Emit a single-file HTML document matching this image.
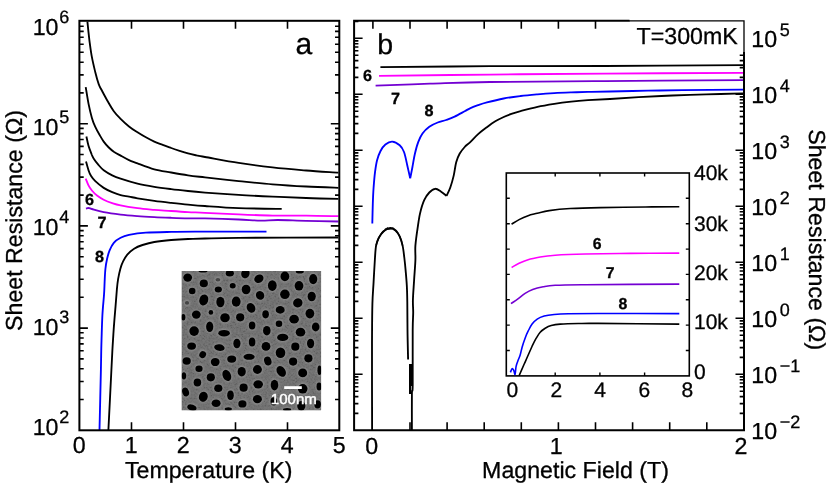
<!DOCTYPE html><html><head><meta charset="utf-8"><style>html,body{margin:0;padding:0;background:#fff}svg{display:block}text{font-family:"Liberation Sans",sans-serif}</style></head><body><svg width="830" height="498" viewBox="0 0 830 498">
<defs><filter id="bl" x="-5%" y="-5%" width="110%" height="110%"><feGaussianBlur stdDeviation="0.9"/></filter><filter id="bl2" x="-5%" y="-5%" width="110%" height="110%"><feGaussianBlur stdDeviation="0.5"/></filter>
<clipPath id="sem"><rect x="181.7" y="271.1" width="139.4" height="139.1"/></clipPath>
<clipPath id="ca"><rect x="79.4" y="20.8" width="259.9" height="409.5"/></clipPath>
<clipPath id="cb"><rect x="354.1" y="20.8" width="389.9" height="409.5"/></clipPath>
<filter id="gr" x="0" y="0" width="100%" height="100%"><feTurbulence type="fractalNoise" baseFrequency="0.55" numOctaves="2" seed="7"/><feColorMatrix type="matrix" values="1.6 0 0 0 -0.45  1.6 0 0 0 -0.45  1.6 0 0 0 -0.45  0 0 0 0 0.10"/></filter>
</defs>
<rect width="830" height="498" fill="#fff"/>
<path d="M87.4,21.7 C87.7,24.8 88.7,34.4 89.4,40.3 C90.2,46.2 90.9,51.9 91.9,57.2 C92.9,62.5 94.2,67.8 95.3,72.3 C96.4,76.8 97.7,81.3 98.7,84.1 C99.7,86.9 99.8,86.6 101.2,89.3 C102.6,92.0 105.0,96.5 107.1,100.2 C109.2,103.9 111.5,108.1 113.8,111.2 C116.0,114.3 118.1,116.3 120.6,118.8 C123.1,121.3 126.2,124.2 129.0,126.4 C131.8,128.7 134.7,130.5 137.5,132.3 C140.3,134.1 143.1,135.8 145.9,137.3 C148.7,138.9 151.5,140.3 154.3,141.6 C157.1,142.9 159.9,143.8 162.7,144.9 C165.5,146.0 168.4,147.0 171.2,148.0 C174.0,149.0 176.8,149.9 179.6,150.8 C182.4,151.7 185.2,152.6 188.0,153.4 C190.8,154.2 193.7,154.8 196.5,155.4 C199.3,156.0 198.0,155.8 205.0,157.0 C212.0,158.2 227.4,161.2 238.7,162.9 C249.9,164.6 261.2,166.1 272.5,167.4 C283.8,168.7 295.2,169.6 306.2,170.5 C317.2,171.4 333.0,172.3 338.4,172.7" fill="none" stroke="#000" stroke-width="1.85" stroke-linejoin="round" clip-path="url(#ca)"/>
<path d="M85.7,87.1 C86.2,89.8 87.5,98.5 88.5,103.6 C89.5,108.7 90.8,114.0 91.9,117.9 C93.0,121.8 94.0,124.1 95.3,126.9 C96.6,129.7 98.1,132.4 99.5,134.8 C100.9,137.2 102.2,139.5 103.7,141.6 C105.2,143.7 107.1,145.8 108.8,147.5 C110.5,149.2 111.8,150.3 113.8,151.7 C115.8,153.0 118.1,154.2 120.6,155.6 C123.1,157.0 126.2,158.8 129.0,160.1 C131.8,161.4 133.3,161.8 137.5,163.4 C141.7,165.0 148.7,167.9 154.3,169.4 C159.9,170.9 165.6,171.5 171.2,172.5 C176.8,173.5 182.4,174.5 188.0,175.3 C193.6,176.1 196.6,176.4 205.0,177.4 C213.4,178.4 227.4,179.9 238.7,181.1 C249.9,182.2 261.2,183.4 272.5,184.3 C283.8,185.2 295.2,185.9 306.2,186.5 C317.2,187.1 333.0,187.6 338.4,187.8" fill="none" stroke="#000" stroke-width="1.85" stroke-linejoin="round" clip-path="url(#ca)"/>
<path d="M86.4,136.5 C86.8,138.1 87.6,142.7 88.5,145.8 C89.4,148.9 91.1,152.9 91.9,155.0 C92.8,157.1 92.5,156.7 93.6,158.4 C94.7,160.1 97.0,163.2 98.7,165.2 C100.4,167.2 101.5,168.5 103.7,170.2 C106.0,171.9 109.4,173.9 112.2,175.3 C115.0,176.7 116.4,177.3 120.6,178.7 C124.8,180.1 131.9,182.3 137.5,183.7 C143.1,185.0 148.7,185.9 154.3,186.8 C159.9,187.7 165.6,188.4 171.2,189.1 C176.8,189.8 182.4,190.4 188.0,191.0 C193.6,191.6 196.6,191.9 205.0,192.6 C213.4,193.2 227.4,194.2 238.7,194.9 C249.9,195.6 261.2,196.1 272.5,196.6 C283.8,197.1 295.2,197.6 306.2,198.0 C317.2,198.4 333.0,198.7 338.4,198.8" fill="none" stroke="#000" stroke-width="1.85" stroke-linejoin="round" clip-path="url(#ca)"/>
<path d="M86.0,161.5 C86.4,162.9 87.7,167.8 88.5,170.2 C89.3,172.6 90.0,174.3 91.1,176.1 C92.2,177.9 93.2,179.2 95.3,181.2 C97.4,183.2 100.9,186.1 103.7,187.9 C106.5,189.7 109.4,191.0 112.2,192.2 C115.0,193.4 117.8,194.5 120.6,195.2 C123.4,195.9 126.2,196.1 129.0,196.6 C131.8,197.1 133.3,197.6 137.5,198.3 C141.7,199.0 148.7,200.1 154.3,200.9 C159.9,201.7 165.6,202.3 171.2,202.9 C176.8,203.5 182.4,204.1 188.0,204.6 C193.6,205.1 196.6,205.4 205.0,206.0 C213.4,206.6 225.9,207.6 238.7,208.1 C251.5,208.6 274.5,208.8 281.7,208.9" fill="none" stroke="#000" stroke-width="1.85" stroke-linejoin="round" clip-path="url(#ca)"/>
<path d="M338.4,237.5 C321.8,237.6 260.9,237.6 238.7,237.8 C216.5,238.0 213.4,238.3 205.0,238.5 C196.6,238.7 193.6,238.8 188.0,239.0 C182.4,239.2 176.8,239.5 171.2,240.0 C165.6,240.5 159.1,241.2 154.3,242.0 C149.5,242.8 145.9,243.9 142.5,245.0 C139.1,246.1 136.6,247.1 134.1,248.7 C131.6,250.3 129.1,252.5 127.3,254.6 C125.5,256.7 124.3,259.0 123.1,261.4 C121.9,263.8 121.1,266.1 120.3,269.0 C119.5,271.9 118.7,275.7 118.1,279.1 C117.5,282.5 117.3,284.6 116.9,289.2 C116.5,293.8 116.1,299.7 115.5,306.9 C114.9,314.1 114.0,324.3 113.5,332.2 C113.0,340.1 112.5,347.8 112.2,354.1 C111.9,360.4 112.0,357.4 111.4,370.0 C110.8,382.6 108.9,420.0 108.4,430.0" fill="none" stroke="#000" stroke-width="1.85" stroke-linejoin="round" clip-path="url(#ca)"/>
<path d="M85.7,178.7 C86.2,179.8 87.5,183.4 88.5,185.4 C89.5,187.4 90.5,188.8 91.9,190.5 C93.3,192.2 95.0,194.0 97.0,195.5 C99.0,197.0 101.2,198.4 103.7,199.7 C106.2,201.0 109.4,202.2 112.2,203.1 C115.0,204.0 116.4,204.5 120.6,205.3 C124.8,206.2 131.9,207.4 137.5,208.2 C143.1,209.0 148.7,209.4 154.3,209.9 C159.9,210.4 165.6,210.6 171.2,211.0 C176.8,211.4 182.4,211.8 188.0,212.1 C193.6,212.4 196.6,212.4 205.0,212.8 C213.4,213.2 227.4,213.9 238.7,214.4 C249.9,214.9 261.2,215.4 272.5,215.6 C283.8,215.8 295.2,215.5 306.2,215.6 C317.2,215.7 333.0,216.1 338.4,216.2" fill="none" stroke="#ff00ff" stroke-width="1.85" stroke-linejoin="round" clip-path="url(#ca)"/>
<path d="M86.0,208.7 C86.4,208.5 87.5,207.8 88.5,207.8 C89.5,207.9 89.4,208.3 91.9,209.0 C94.4,209.7 98.9,211.2 103.7,212.1 C108.5,213.0 115.0,213.9 120.6,214.6 C126.2,215.3 131.9,215.7 137.5,216.1 C143.1,216.5 148.7,216.8 154.3,217.1 C159.9,217.4 165.6,217.6 171.2,217.8 C176.8,218.0 182.4,218.2 188.0,218.3 C193.6,218.4 196.6,218.2 205.0,218.4 C213.4,218.6 229.4,219.1 238.7,219.5 C248.0,219.9 254.1,220.5 260.6,220.6 C267.1,220.7 269.9,220.0 277.5,220.0 C285.1,220.0 296.1,220.6 306.2,220.8 C316.3,221.1 333.0,221.4 338.4,221.5" fill="none" stroke="#7300d2" stroke-width="1.85" stroke-linejoin="round" clip-path="url(#ca)"/>
<path d="M266.5,231.6 C256.2,231.6 220.9,231.5 205.0,231.6 C189.1,231.7 181.0,231.7 171.2,231.9 C161.3,232.1 152.9,232.2 145.9,232.7 C138.9,233.2 133.2,234.1 129.0,234.9 C124.8,235.8 123.1,236.5 120.6,237.8 C118.1,239.1 115.6,240.7 113.8,242.8 C112.0,244.9 110.7,247.7 109.6,250.4 C108.5,253.1 107.8,255.7 107.1,258.8 C106.4,261.9 105.8,265.1 105.4,269.0 C105.0,272.9 104.8,278.2 104.6,282.5 C104.4,286.8 104.4,289.5 104.0,295.0 C103.6,300.5 102.8,307.7 102.4,315.3 C102.0,322.9 101.8,331.5 101.5,340.6 C101.2,349.7 101.2,355.1 100.9,370.0 C100.6,384.9 99.7,420.0 99.5,430.0" fill="none" stroke="#0000ff" stroke-width="1.85" stroke-linejoin="round" clip-path="url(#ca)"/>
<path d="M380.4,67.2 C398.7,67.0 452.6,66.4 490.0,66.2 C527.4,66.0 562.8,66.2 605.0,66.0 C647.2,65.8 720.0,65.3 743.0,65.2" fill="none" stroke="#000" stroke-width="1.85" stroke-linejoin="round" clip-path="url(#cb)"/>
<path d="M379.0,75.8 C397.5,75.6 452.3,75.0 490.0,74.6 C527.7,74.2 562.8,73.9 605.0,73.6 C647.2,73.3 720.0,72.9 743.0,72.8" fill="none" stroke="#ff00ff" stroke-width="1.85" stroke-linejoin="round" clip-path="url(#cb)"/>
<path d="M375.6,85.6 C384.7,85.3 410.9,84.3 430.0,83.7 C449.1,83.1 460.8,82.4 490.0,82.0 C519.2,81.6 562.8,81.4 605.0,81.1 C647.2,80.8 720.0,80.3 743.0,80.1" fill="none" stroke="#7300d2" stroke-width="1.85" stroke-linejoin="round" clip-path="url(#cb)"/>
<path d="M372.3,223.4 C372.4,220.2 372.6,210.0 372.8,204.0 C373.0,198.0 373.2,192.8 373.6,187.5 C374.0,182.2 374.4,176.8 375.0,172.3 C375.6,167.8 376.1,164.0 377.0,160.5 C377.9,157.0 379.0,153.9 380.4,151.2 C381.8,148.5 383.4,146.1 385.4,144.5 C387.4,142.9 389.8,141.5 392.2,141.6 C394.6,141.7 397.7,143.6 399.7,145.3 C401.7,147.0 402.7,148.6 404.0,152.0 C405.3,155.4 406.3,161.1 407.3,165.5 C408.3,169.9 409.7,176.1 410.2,178.2 " fill="none" stroke="#0000ff" stroke-width="1.85" stroke-linejoin="round" clip-path="url(#cb)"/>
<path d="M410.2,178.2 C410.6,176.4 411.6,171.3 412.4,167.2 C413.2,163.1 413.9,157.9 414.9,153.7 C415.9,149.5 417.0,145.3 418.3,141.9 C419.6,138.5 420.7,136.0 422.5,133.5 C424.3,131.0 426.8,128.5 429.3,126.7 C431.8,124.9 434.9,123.6 437.7,122.5 C440.5,121.4 443.3,121.0 446.1,120.0 C448.9,119.0 451.5,118.1 454.6,116.6 C457.7,115.1 462.1,112.6 464.7,111.2 C467.3,109.8 467.8,109.3 470.0,108.3 C472.2,107.3 475.2,106.2 478.0,105.2 C480.8,104.2 482.6,103.5 486.9,102.4 C491.2,101.3 498.1,99.6 503.7,98.5 C509.3,97.4 515.0,96.7 520.6,96.0 C526.2,95.3 531.9,94.8 537.5,94.3 C543.1,93.8 548.7,93.4 554.3,93.1 C559.9,92.8 565.6,92.6 571.2,92.4 C576.8,92.2 581.5,92.1 588.0,91.9 C594.5,91.8 600.0,91.7 610.0,91.5 C620.0,91.3 635.9,90.9 648.0,90.7 C660.1,90.5 666.6,90.3 682.4,90.1 C698.2,89.9 732.9,89.7 743.0,89.6" fill="none" stroke="#0000ff" stroke-width="1.85" stroke-linejoin="round" clip-path="url(#cb)"/>
<path d="M411.9,430.0 C411.9,424.0 411.8,401.5 411.9,394.0 C412.0,386.5 412.6,395.7 412.7,385.0 C412.8,374.3 412.6,342.1 412.7,330.0 C412.8,317.9 413.2,317.2 413.2,312.3 C413.2,307.4 412.8,305.9 412.9,300.5 C413.0,295.1 413.7,286.9 414.1,280.2 C414.5,273.4 415.2,265.8 415.4,260.0 C415.6,254.2 415.0,250.8 415.4,245.6 C415.8,240.4 416.7,234.1 417.5,228.8 C418.3,223.5 418.9,218.4 420.0,213.6 C421.1,208.8 422.6,203.6 424.2,200.1 C425.8,196.6 427.5,194.4 429.3,192.5 C431.1,190.6 433.2,188.9 435.2,188.8 C437.2,188.7 439.2,190.5 441.1,191.7 C443.0,192.9 445.6,195.2 446.5,195.9" fill="none" stroke="#000" stroke-width="1.85" stroke-linejoin="round" clip-path="url(#cb)"/>
<path d="M446.5,195.9 C447.1,194.5 449.1,190.9 450.3,187.5 C451.5,184.1 452.7,179.8 453.7,175.6 C454.7,171.4 455.2,165.8 456.2,162.2 C457.2,158.5 458.2,156.2 459.6,153.7 C461.0,151.2 463.0,148.9 464.7,147.0 C466.4,145.1 467.7,144.5 470.0,142.3 C472.3,140.1 475.6,136.4 478.4,133.9 C481.2,131.4 484.1,129.3 486.9,127.2 C489.7,125.1 492.5,123.0 495.3,121.3 C498.1,119.6 500.9,118.3 503.7,117.0 C506.5,115.7 509.4,114.7 512.2,113.7 C515.0,112.7 516.4,112.2 520.6,111.1 C524.8,110.0 531.9,108.1 537.5,106.9 C543.1,105.7 548.7,104.8 554.3,103.9 C559.9,103.0 565.6,102.3 571.2,101.7 C576.8,101.1 581.5,100.7 588.0,100.2 C594.5,99.8 601.5,99.5 610.0,99.0 C618.5,98.5 628.3,97.8 638.7,97.2 C649.1,96.6 661.2,96.0 672.5,95.5 C683.8,95.0 694.5,94.6 706.2,94.3 C718.0,94.0 736.9,93.6 743.0,93.4" fill="none" stroke="#000" stroke-width="1.85" stroke-linejoin="round" clip-path="url(#cb)"/>
<path d="M372.1,430.0 C372.1,415.7 371.9,365.0 372.0,344.0 C372.1,323.0 372.1,314.2 372.4,303.8 C372.7,293.4 373.2,289.6 373.6,281.9 C374.0,274.2 374.6,263.6 375.0,257.5 C375.4,251.4 375.5,248.8 376.1,245.6 C376.7,242.3 377.4,240.4 378.7,238.0 C380.0,235.6 381.8,233.0 383.7,231.3 C385.6,229.6 388.1,228.0 390.1,227.9 C392.1,227.8 393.9,229.1 395.5,230.5 C397.1,231.9 398.5,233.9 399.7,236.4 C400.9,238.9 401.8,242.1 402.6,245.6 C403.4,249.1 403.8,253.4 404.3,257.5 C404.8,261.6 405.2,265.5 405.6,270.1 C406.0,274.7 406.5,280.0 406.8,285.3 C407.1,290.6 407.2,294.8 407.3,302.2 C407.4,309.6 407.4,320.4 407.5,330.0 C407.6,339.6 408.0,354.6 408.1,359.5" fill="none" stroke="#000" stroke-width="1.85" stroke-linejoin="round" clip-path="url(#cb)"/>
<path d="M376.1,245.5 L376.5,244.0 L377.0,242.6 L377.4,241.4 L377.9,240.2 L378.3,239.0 L378.8,237.9 L379.2,237.2 L379.7,236.1 L380.1,235.3 L380.6,235.0 L381.0,234.0 L381.5,233.6 L381.9,232.8 L382.4,232.4 L382.8,231.5 L383.3,231.5 L383.7,231.4 L384.2,230.6 L384.6,230.5 L385.1,230.2 L385.5,229.0 L386.0,229.8 L386.4,229.3 L386.9,228.7 L387.3,228.0 L387.8,229.3 L388.2,228.5 L388.7,228.9 L389.1,229.1 L389.6,228.7 L390.0,229.0 L390.5,228.1 L390.9,228.8 L391.4,228.2 L391.8,229.0 L392.3,229.0 L392.7,228.0 L393.2,228.3 L393.6,228.6 L394.1,229.7 L394.5,229.4 L395.0,229.9 L395.4,229.9 L395.9,230.5 L396.3,230.9 L396.8,231.4 L397.2,232.1 L397.7,232.8 L398.1,233.6 L398.6,234.3 L399.0,235.2 L399.5,236.1 L399.9,237.2 L400.4,238.2 L400.8,239.4 L401.3,240.8 L401.7,242.3 L402.2,243.8 L402.6,245.6" fill="none" stroke="#000" stroke-width="1.5" stroke-linejoin="round" clip-path="url(#cb)"/>
<rect x="409" y="364" width="3.8" height="22" fill="#000"/><rect x="409" y="384" width="2.2" height="10" fill="#000"/>
<g clip-path="url(#sem)"><rect x="181" y="270" width="141" height="141" fill="#6c6c6c"/><rect x="181" y="270" width="141" height="141" filter="url(#gr)"/><g filter="url(#bl)">
<ellipse cx="187.7" cy="277.6" rx="5.5" ry="5.2" transform="rotate(0 187.7 277.6)" fill="#8e8e8e"/>
<ellipse cx="203.0" cy="271.1" rx="5.7" ry="2.7" transform="rotate(0 203.0 271.1)" fill="#8e8e8e"/>
<ellipse cx="229.8" cy="273.2" rx="5.2" ry="4.5" transform="rotate(0 229.8 273.2)" fill="#8e8e8e"/>
<ellipse cx="245.4" cy="273.5" rx="5.2" ry="6.0" transform="rotate(20 245.4 273.5)" fill="#8e8e8e"/>
<ellipse cx="203.8" cy="283.4" rx="5.2" ry="4.9" transform="rotate(0 203.8 283.4)" fill="#8e8e8e"/>
<ellipse cx="217.9" cy="279.7" rx="3.6" ry="3.0" transform="rotate(0 217.9 279.7)" fill="#8e8e8e"/>
<ellipse cx="192.2" cy="291.0" rx="4.5" ry="4.5" transform="rotate(0 192.2 291.0)" fill="#8e8e8e"/>
<ellipse cx="218.3" cy="289.5" rx="4.8" ry="4.0" transform="rotate(0 218.3 289.5)" fill="#8e8e8e"/>
<ellipse cx="232.7" cy="285.8" rx="4.2" ry="3.9" transform="rotate(0 232.7 285.8)" fill="#8e8e8e"/>
<ellipse cx="246.1" cy="289.5" rx="5.5" ry="6.0" transform="rotate(0 246.1 289.5)" fill="#8e8e8e"/>
<ellipse cx="203.8" cy="299.9" rx="5.5" ry="6.7" transform="rotate(20 203.8 299.9)" fill="#8e8e8e"/>
<ellipse cx="220.4" cy="302.0" rx="5.2" ry="6.4" transform="rotate(0 220.4 302.0)" fill="#8e8e8e"/>
<ellipse cx="236.2" cy="301.7" rx="5.5" ry="6.3" transform="rotate(0 236.2 301.7)" fill="#8e8e8e"/>
<ellipse cx="187.0" cy="302.9" rx="3.3" ry="3.0" transform="rotate(0 187.0 302.9)" fill="#8e8e8e"/>
<ellipse cx="251.0" cy="307.9" rx="5.2" ry="6.3" transform="rotate(-30 251.0 307.9)" fill="#8e8e8e"/>
<ellipse cx="196.3" cy="314.6" rx="5.5" ry="5.2" transform="rotate(0 196.3 314.6)" fill="#8e8e8e"/>
<ellipse cx="210.9" cy="312.4" rx="3.4" ry="3.4" transform="rotate(0 210.9 312.4)" fill="#8e8e8e"/>
<ellipse cx="183.3" cy="317.3" rx="3.3" ry="4.5" transform="rotate(0 183.3 317.3)" fill="#8e8e8e"/>
<ellipse cx="225.0" cy="317.7" rx="6.0" ry="5.7" transform="rotate(0 225.0 317.7)" fill="#8e8e8e"/>
<ellipse cx="240.2" cy="317.3" rx="5.2" ry="5.2" transform="rotate(0 240.2 317.3)" fill="#8e8e8e"/>
<ellipse cx="209.7" cy="326.7" rx="4.8" ry="6.4" transform="rotate(0 209.7 326.7)" fill="#8e8e8e"/>
<ellipse cx="194.1" cy="331.1" rx="6.0" ry="6.0" transform="rotate(0 194.1 331.1)" fill="#8e8e8e"/>
<ellipse cx="224.1" cy="333.2" rx="7.0" ry="4.5" transform="rotate(0 224.1 333.2)" fill="#8e8e8e"/>
<ellipse cx="252.1" cy="325.5" rx="4.5" ry="5.2" transform="rotate(0 252.1 325.5)" fill="#8e8e8e"/>
<ellipse cx="258.9" cy="278.7" rx="6.0" ry="5.2" transform="rotate(-30 258.9 278.7)" fill="#8e8e8e"/>
<ellipse cx="284.9" cy="276.4" rx="5.5" ry="6.0" transform="rotate(0 284.9 276.4)" fill="#8e8e8e"/>
<ellipse cx="299.8" cy="271.7" rx="5.2" ry="3.0" transform="rotate(0 299.8 271.7)" fill="#8e8e8e"/>
<ellipse cx="313.2" cy="279.1" rx="5.2" ry="6.3" transform="rotate(0 313.2 279.1)" fill="#8e8e8e"/>
<ellipse cx="272.3" cy="285.6" rx="5.5" ry="6.4" transform="rotate(0 272.3 285.6)" fill="#8e8e8e"/>
<ellipse cx="299.0" cy="285.8" rx="5.5" ry="6.0" transform="rotate(0 299.0 285.8)" fill="#8e8e8e"/>
<ellipse cx="260.1" cy="295.4" rx="5.2" ry="5.7" transform="rotate(-30 260.1 295.4)" fill="#8e8e8e"/>
<ellipse cx="284.9" cy="294.3" rx="6.0" ry="6.0" transform="rotate(0 284.9 294.3)" fill="#8e8e8e"/>
<ellipse cx="311.7" cy="296.5" rx="5.2" ry="6.0" transform="rotate(0 311.7 296.5)" fill="#8e8e8e"/>
<ellipse cx="297.8" cy="302.9" rx="6.0" ry="5.7" transform="rotate(-30 297.8 302.9)" fill="#8e8e8e"/>
<ellipse cx="280.2" cy="309.9" rx="5.7" ry="4.9" transform="rotate(0 280.2 309.9)" fill="#8e8e8e"/>
<ellipse cx="265.6" cy="314.3" rx="4.5" ry="5.2" transform="rotate(0 265.6 314.3)" fill="#8e8e8e"/>
<ellipse cx="309.9" cy="313.6" rx="5.5" ry="6.0" transform="rotate(0 309.9 313.6)" fill="#8e8e8e"/>
<ellipse cx="294.1" cy="319.2" rx="6.0" ry="5.5" transform="rotate(0 294.1 319.2)" fill="#8e8e8e"/>
<ellipse cx="279.0" cy="323.7" rx="4.5" ry="4.5" transform="rotate(0 279.0 323.7)" fill="#8e8e8e"/>
<ellipse cx="315.7" cy="326.9" rx="4.9" ry="5.7" transform="rotate(0 315.7 326.9)" fill="#8e8e8e"/>
<ellipse cx="266.8" cy="330.7" rx="4.9" ry="6.0" transform="rotate(0 266.8 330.7)" fill="#8e8e8e"/>
<ellipse cx="300.5" cy="332.2" rx="6.0" ry="5.5" transform="rotate(0 300.5 332.2)" fill="#8e8e8e"/>
<ellipse cx="282.7" cy="337.4" rx="6.7" ry="4.8" transform="rotate(0 282.7 337.4)" fill="#8e8e8e"/>
<ellipse cx="191.6" cy="346.1" rx="5.5" ry="4.8" transform="rotate(0 191.6 346.1)" fill="#8e8e8e"/>
<ellipse cx="219.4" cy="347.6" rx="6.4" ry="4.5" transform="rotate(10 219.4 347.6)" fill="#8e8e8e"/>
<ellipse cx="236.9" cy="343.5" rx="4.8" ry="6.0" transform="rotate(0 236.9 343.5)" fill="#8e8e8e"/>
<ellipse cx="252.1" cy="342.0" rx="4.5" ry="5.7" transform="rotate(0 252.1 342.0)" fill="#8e8e8e"/>
<ellipse cx="202.7" cy="354.6" rx="4.5" ry="4.8" transform="rotate(30 202.7 354.6)" fill="#8e8e8e"/>
<ellipse cx="186.7" cy="361.0" rx="5.2" ry="4.9" transform="rotate(0 186.7 361.0)" fill="#8e8e8e"/>
<ellipse cx="231.7" cy="359.1" rx="5.7" ry="4.8" transform="rotate(0 231.7 359.1)" fill="#8e8e8e"/>
<ellipse cx="249.1" cy="356.8" rx="6.7" ry="4.2" transform="rotate(0 249.1 356.8)" fill="#8e8e8e"/>
<ellipse cx="215.2" cy="362.0" rx="5.5" ry="5.2" transform="rotate(0 215.2 362.0)" fill="#8e8e8e"/>
<ellipse cx="199.0" cy="368.7" rx="4.8" ry="4.5" transform="rotate(0 199.0 368.7)" fill="#8e8e8e"/>
<ellipse cx="241.7" cy="371.7" rx="5.2" ry="6.0" transform="rotate(0 241.7 371.7)" fill="#8e8e8e"/>
<ellipse cx="183.9" cy="375.8" rx="3.4" ry="4.8" transform="rotate(0 183.9 375.8)" fill="#8e8e8e"/>
<ellipse cx="210.8" cy="377.3" rx="5.2" ry="5.2" transform="rotate(0 210.8 377.3)" fill="#8e8e8e"/>
<ellipse cx="226.8" cy="375.4" rx="5.2" ry="7.0" transform="rotate(-25 226.8 375.4)" fill="#8e8e8e"/>
<ellipse cx="197.4" cy="382.5" rx="4.9" ry="5.2" transform="rotate(0 197.4 382.5)" fill="#8e8e8e"/>
<ellipse cx="243.6" cy="387.7" rx="5.2" ry="5.2" transform="rotate(0 243.6 387.7)" fill="#8e8e8e"/>
<ellipse cx="218.3" cy="388.3" rx="5.2" ry="4.9" transform="rotate(0 218.3 388.3)" fill="#8e8e8e"/>
<ellipse cx="185.6" cy="392.0" rx="4.5" ry="5.5" transform="rotate(-20 185.6 392.0)" fill="#8e8e8e"/>
<ellipse cx="230.5" cy="395.2" rx="4.5" ry="6.0" transform="rotate(0 230.5 395.2)" fill="#8e8e8e"/>
<ellipse cx="203.3" cy="396.7" rx="5.5" ry="6.3" transform="rotate(20 203.3 396.7)" fill="#8e8e8e"/>
<ellipse cx="216.1" cy="403.2" rx="5.7" ry="4.9" transform="rotate(0 216.1 403.2)" fill="#8e8e8e"/>
<ellipse cx="242.4" cy="403.9" rx="5.2" ry="4.8" transform="rotate(0 242.4 403.9)" fill="#8e8e8e"/>
<ellipse cx="191.9" cy="407.6" rx="6.0" ry="4.2" transform="rotate(20 191.9 407.6)" fill="#8e8e8e"/>
<ellipse cx="228.3" cy="409.1" rx="4.8" ry="3.0" transform="rotate(0 228.3 409.1)" fill="#8e8e8e"/>
<ellipse cx="266.0" cy="346.4" rx="5.5" ry="5.5" transform="rotate(0 266.0 346.4)" fill="#8e8e8e"/>
<ellipse cx="295.3" cy="346.7" rx="5.2" ry="5.2" transform="rotate(0 295.3 346.7)" fill="#8e8e8e"/>
<ellipse cx="310.6" cy="343.5" rx="4.8" ry="6.0" transform="rotate(0 310.6 343.5)" fill="#8e8e8e"/>
<ellipse cx="280.5" cy="352.7" rx="6.0" ry="6.4" transform="rotate(0 280.5 352.7)" fill="#8e8e8e"/>
<ellipse cx="267.8" cy="361.0" rx="4.8" ry="5.7" transform="rotate(-20 267.8 361.0)" fill="#8e8e8e"/>
<ellipse cx="293.1" cy="361.6" rx="5.2" ry="5.2" transform="rotate(0 293.1 361.6)" fill="#8e8e8e"/>
<ellipse cx="308.4" cy="358.3" rx="5.2" ry="5.2" transform="rotate(0 308.4 358.3)" fill="#8e8e8e"/>
<ellipse cx="257.4" cy="369.5" rx="5.7" ry="5.5" transform="rotate(0 257.4 369.5)" fill="#8e8e8e"/>
<ellipse cx="281.2" cy="371.4" rx="5.4" ry="7.0" transform="rotate(-35 281.2 371.4)" fill="#8e8e8e"/>
<ellipse cx="302.7" cy="372.9" rx="5.7" ry="5.5" transform="rotate(0 302.7 372.9)" fill="#8e8e8e"/>
<ellipse cx="319.5" cy="370.2" rx="3.3" ry="6.0" transform="rotate(0 319.5 370.2)" fill="#8e8e8e"/>
<ellipse cx="258.2" cy="384.3" rx="6.0" ry="5.2" transform="rotate(0 258.2 384.3)" fill="#8e8e8e"/>
<ellipse cx="274.5" cy="385.1" rx="4.9" ry="6.4" transform="rotate(0 274.5 385.1)" fill="#8e8e8e"/>
<ellipse cx="319.1" cy="386.5" rx="3.7" ry="5.2" transform="rotate(0 319.1 386.5)" fill="#8e8e8e"/>
<ellipse cx="302.7" cy="388.8" rx="6.0" ry="6.0" transform="rotate(0 302.7 388.8)" fill="#8e8e8e"/>
<ellipse cx="257.4" cy="399.2" rx="5.7" ry="5.2" transform="rotate(0 257.4 399.2)" fill="#8e8e8e"/>
<ellipse cx="273.8" cy="401.4" rx="4.5" ry="5.2" transform="rotate(0 273.8 401.4)" fill="#8e8e8e"/>
<ellipse cx="301.3" cy="405.9" rx="5.2" ry="6.0" transform="rotate(0 301.3 405.9)" fill="#8e8e8e"/>
<ellipse cx="317.6" cy="404.4" rx="4.5" ry="5.2" transform="rotate(0 317.6 404.4)" fill="#8e8e8e"/>
<ellipse cx="287.1" cy="409.6" rx="5.2" ry="2.7" transform="rotate(0 287.1 409.6)" fill="#8e8e8e"/>
</g><g filter="url(#bl2)">
<ellipse cx="187.7" cy="277.6" rx="4.4" ry="4.1" transform="rotate(0 187.7 277.6)" fill="#000"/>
<ellipse cx="203.0" cy="271.1" rx="4.5" ry="1.5" transform="rotate(0 203.0 271.1)" fill="#000"/>
<ellipse cx="229.8" cy="273.2" rx="4.1" ry="3.3" transform="rotate(0 229.8 273.2)" fill="#000"/>
<ellipse cx="245.4" cy="273.5" rx="4.1" ry="4.8" transform="rotate(20 245.4 273.5)" fill="#000"/>
<ellipse cx="203.8" cy="283.4" rx="4.1" ry="3.8" transform="rotate(0 203.8 283.4)" fill="#000"/>
<ellipse cx="217.9" cy="279.7" rx="2.4" ry="1.8" transform="rotate(0 217.9 279.7)" fill="#444"/>
<ellipse cx="192.2" cy="291.0" rx="3.3" ry="3.3" transform="rotate(0 192.2 291.0)" fill="#000"/>
<ellipse cx="218.3" cy="289.5" rx="3.6" ry="2.9" transform="rotate(0 218.3 289.5)" fill="#000"/>
<ellipse cx="232.7" cy="285.8" rx="3.0" ry="2.7" transform="rotate(0 232.7 285.8)" fill="#000"/>
<ellipse cx="246.1" cy="289.5" rx="4.4" ry="4.8" transform="rotate(0 246.1 289.5)" fill="#000"/>
<ellipse cx="203.8" cy="299.9" rx="4.4" ry="5.6" transform="rotate(20 203.8 299.9)" fill="#000"/>
<ellipse cx="220.4" cy="302.0" rx="4.1" ry="5.3" transform="rotate(0 220.4 302.0)" fill="#000"/>
<ellipse cx="236.2" cy="301.7" rx="4.4" ry="5.1" transform="rotate(0 236.2 301.7)" fill="#000"/>
<ellipse cx="187.0" cy="302.9" rx="2.1" ry="1.8" transform="rotate(0 187.0 302.9)" fill="#444"/>
<ellipse cx="251.0" cy="307.9" rx="4.1" ry="5.1" transform="rotate(-30 251.0 307.9)" fill="#000"/>
<ellipse cx="196.3" cy="314.6" rx="4.4" ry="4.1" transform="rotate(0 196.3 314.6)" fill="#000"/>
<ellipse cx="210.9" cy="312.4" rx="2.3" ry="2.3" transform="rotate(0 210.9 312.4)" fill="#000"/>
<ellipse cx="183.3" cy="317.3" rx="2.1" ry="3.3" transform="rotate(0 183.3 317.3)" fill="#000"/>
<ellipse cx="225.0" cy="317.7" rx="4.8" ry="4.5" transform="rotate(0 225.0 317.7)" fill="#000"/>
<ellipse cx="240.2" cy="317.3" rx="4.1" ry="4.1" transform="rotate(0 240.2 317.3)" fill="#000"/>
<ellipse cx="209.7" cy="326.7" rx="3.6" ry="5.3" transform="rotate(0 209.7 326.7)" fill="#000"/>
<ellipse cx="194.1" cy="331.1" rx="4.8" ry="4.8" transform="rotate(0 194.1 331.1)" fill="#000"/>
<ellipse cx="224.1" cy="333.2" rx="5.8" ry="3.3" transform="rotate(0 224.1 333.2)" fill="#000"/>
<ellipse cx="252.1" cy="325.5" rx="3.3" ry="4.1" transform="rotate(0 252.1 325.5)" fill="#000"/>
<ellipse cx="258.9" cy="278.7" rx="4.8" ry="4.1" transform="rotate(-30 258.9 278.7)" fill="#000"/>
<ellipse cx="284.9" cy="276.4" rx="4.4" ry="4.8" transform="rotate(0 284.9 276.4)" fill="#000"/>
<ellipse cx="299.8" cy="271.7" rx="4.1" ry="1.8" transform="rotate(0 299.8 271.7)" fill="#000"/>
<ellipse cx="313.2" cy="279.1" rx="4.1" ry="5.1" transform="rotate(0 313.2 279.1)" fill="#000"/>
<ellipse cx="272.3" cy="285.6" rx="4.4" ry="5.3" transform="rotate(0 272.3 285.6)" fill="#000"/>
<ellipse cx="299.0" cy="285.8" rx="4.4" ry="4.8" transform="rotate(0 299.0 285.8)" fill="#000"/>
<ellipse cx="260.1" cy="295.4" rx="4.1" ry="4.5" transform="rotate(-30 260.1 295.4)" fill="#000"/>
<ellipse cx="284.9" cy="294.3" rx="4.8" ry="4.8" transform="rotate(0 284.9 294.3)" fill="#000"/>
<ellipse cx="311.7" cy="296.5" rx="4.1" ry="4.8" transform="rotate(0 311.7 296.5)" fill="#000"/>
<ellipse cx="297.8" cy="302.9" rx="4.8" ry="4.5" transform="rotate(-30 297.8 302.9)" fill="#000"/>
<ellipse cx="280.2" cy="309.9" rx="4.5" ry="3.8" transform="rotate(0 280.2 309.9)" fill="#000"/>
<ellipse cx="265.6" cy="314.3" rx="3.3" ry="4.1" transform="rotate(0 265.6 314.3)" fill="#000"/>
<ellipse cx="309.9" cy="313.6" rx="4.4" ry="4.8" transform="rotate(0 309.9 313.6)" fill="#000"/>
<ellipse cx="294.1" cy="319.2" rx="4.8" ry="4.4" transform="rotate(0 294.1 319.2)" fill="#000"/>
<ellipse cx="279.0" cy="323.7" rx="3.3" ry="3.3" transform="rotate(0 279.0 323.7)" fill="#000"/>
<ellipse cx="315.7" cy="326.9" rx="3.8" ry="4.5" transform="rotate(0 315.7 326.9)" fill="#000"/>
<ellipse cx="266.8" cy="330.7" rx="3.8" ry="4.8" transform="rotate(0 266.8 330.7)" fill="#000"/>
<ellipse cx="300.5" cy="332.2" rx="4.8" ry="4.4" transform="rotate(0 300.5 332.2)" fill="#000"/>
<ellipse cx="282.7" cy="337.4" rx="5.6" ry="3.6" transform="rotate(0 282.7 337.4)" fill="#000"/>
<ellipse cx="191.6" cy="346.1" rx="4.4" ry="3.6" transform="rotate(0 191.6 346.1)" fill="#000"/>
<ellipse cx="219.4" cy="347.6" rx="5.3" ry="3.3" transform="rotate(10 219.4 347.6)" fill="#000"/>
<ellipse cx="236.9" cy="343.5" rx="3.6" ry="4.8" transform="rotate(0 236.9 343.5)" fill="#000"/>
<ellipse cx="252.1" cy="342.0" rx="3.3" ry="4.5" transform="rotate(0 252.1 342.0)" fill="#000"/>
<ellipse cx="202.7" cy="354.6" rx="3.3" ry="3.6" transform="rotate(30 202.7 354.6)" fill="#000"/>
<ellipse cx="186.7" cy="361.0" rx="4.1" ry="3.8" transform="rotate(0 186.7 361.0)" fill="#000"/>
<ellipse cx="231.7" cy="359.1" rx="4.5" ry="3.6" transform="rotate(0 231.7 359.1)" fill="#000"/>
<ellipse cx="249.1" cy="356.8" rx="5.6" ry="3.0" transform="rotate(0 249.1 356.8)" fill="#000"/>
<ellipse cx="215.2" cy="362.0" rx="4.4" ry="4.1" transform="rotate(0 215.2 362.0)" fill="#000"/>
<ellipse cx="199.0" cy="368.7" rx="3.6" ry="3.3" transform="rotate(0 199.0 368.7)" fill="#000"/>
<ellipse cx="241.7" cy="371.7" rx="4.1" ry="4.8" transform="rotate(0 241.7 371.7)" fill="#000"/>
<ellipse cx="183.9" cy="375.8" rx="2.3" ry="3.6" transform="rotate(0 183.9 375.8)" fill="#000"/>
<ellipse cx="210.8" cy="377.3" rx="4.1" ry="4.1" transform="rotate(0 210.8 377.3)" fill="#000"/>
<ellipse cx="226.8" cy="375.4" rx="4.1" ry="5.8" transform="rotate(-25 226.8 375.4)" fill="#000"/>
<ellipse cx="197.4" cy="382.5" rx="3.8" ry="4.1" transform="rotate(0 197.4 382.5)" fill="#000"/>
<ellipse cx="243.6" cy="387.7" rx="4.1" ry="4.1" transform="rotate(0 243.6 387.7)" fill="#000"/>
<ellipse cx="218.3" cy="388.3" rx="4.1" ry="3.8" transform="rotate(0 218.3 388.3)" fill="#000"/>
<ellipse cx="185.6" cy="392.0" rx="3.3" ry="4.4" transform="rotate(-20 185.6 392.0)" fill="#000"/>
<ellipse cx="230.5" cy="395.2" rx="3.3" ry="4.8" transform="rotate(0 230.5 395.2)" fill="#000"/>
<ellipse cx="203.3" cy="396.7" rx="4.4" ry="5.1" transform="rotate(20 203.3 396.7)" fill="#000"/>
<ellipse cx="216.1" cy="403.2" rx="4.5" ry="3.8" transform="rotate(0 216.1 403.2)" fill="#000"/>
<ellipse cx="242.4" cy="403.9" rx="4.1" ry="3.6" transform="rotate(0 242.4 403.9)" fill="#000"/>
<ellipse cx="191.9" cy="407.6" rx="4.8" ry="3.0" transform="rotate(20 191.9 407.6)" fill="#000"/>
<ellipse cx="228.3" cy="409.1" rx="3.6" ry="1.8" transform="rotate(0 228.3 409.1)" fill="#000"/>
<ellipse cx="266.0" cy="346.4" rx="4.4" ry="4.4" transform="rotate(0 266.0 346.4)" fill="#000"/>
<ellipse cx="295.3" cy="346.7" rx="4.1" ry="4.1" transform="rotate(0 295.3 346.7)" fill="#000"/>
<ellipse cx="310.6" cy="343.5" rx="3.6" ry="4.8" transform="rotate(0 310.6 343.5)" fill="#000"/>
<ellipse cx="280.5" cy="352.7" rx="4.8" ry="5.3" transform="rotate(0 280.5 352.7)" fill="#000"/>
<ellipse cx="267.8" cy="361.0" rx="3.6" ry="4.5" transform="rotate(-20 267.8 361.0)" fill="#000"/>
<ellipse cx="293.1" cy="361.6" rx="4.1" ry="4.1" transform="rotate(0 293.1 361.6)" fill="#000"/>
<ellipse cx="308.4" cy="358.3" rx="4.1" ry="4.1" transform="rotate(0 308.4 358.3)" fill="#000"/>
<ellipse cx="257.4" cy="369.5" rx="4.5" ry="4.4" transform="rotate(0 257.4 369.5)" fill="#000"/>
<ellipse cx="281.2" cy="371.4" rx="4.2" ry="5.8" transform="rotate(-35 281.2 371.4)" fill="#000"/>
<ellipse cx="302.7" cy="372.9" rx="4.5" ry="4.4" transform="rotate(0 302.7 372.9)" fill="#000"/>
<ellipse cx="319.5" cy="370.2" rx="2.1" ry="4.8" transform="rotate(0 319.5 370.2)" fill="#000"/>
<ellipse cx="258.2" cy="384.3" rx="4.8" ry="4.1" transform="rotate(0 258.2 384.3)" fill="#000"/>
<ellipse cx="274.5" cy="385.1" rx="3.8" ry="5.3" transform="rotate(0 274.5 385.1)" fill="#000"/>
<ellipse cx="319.1" cy="386.5" rx="2.6" ry="4.1" transform="rotate(0 319.1 386.5)" fill="#000"/>
<ellipse cx="302.7" cy="388.8" rx="4.8" ry="4.8" transform="rotate(0 302.7 388.8)" fill="#000"/>
<ellipse cx="257.4" cy="399.2" rx="4.5" ry="4.1" transform="rotate(0 257.4 399.2)" fill="#000"/>
<ellipse cx="273.8" cy="401.4" rx="3.3" ry="4.1" transform="rotate(0 273.8 401.4)" fill="#000"/>
<ellipse cx="301.3" cy="405.9" rx="4.1" ry="4.8" transform="rotate(0 301.3 405.9)" fill="#000"/>
<ellipse cx="317.6" cy="404.4" rx="3.3" ry="4.1" transform="rotate(0 317.6 404.4)" fill="#000"/>
<ellipse cx="287.1" cy="409.6" rx="4.1" ry="1.5" transform="rotate(0 287.1 409.6)" fill="#000"/>
</g>
<rect x="284.2" y="386.2" width="17.6" height="2.8" fill="#fff"/>
<text x="293.8" y="404.4" font-size="14.5" fill="#fff" stroke="#fff" stroke-width="0.4" text-rendering="geometricPrecision" style="opacity:0.999" text-anchor="middle" textLength="46" lengthAdjust="spacingAndGlyphs">100nm</text>
</g>
<rect x="629.5" y="21.0" width="114.3" height="31.2" fill="#fff"/>
<path d="M131.5,20.8 v8 M131.5,430.3 v-8 M183.5,20.8 v8 M183.5,430.3 v-8 M235.5,20.8 v8 M235.5,430.3 v-8 M287.5,20.8 v8 M287.5,430.3 v-8 M79.4,399.5 h4.3 M339.3,399.5 h-4.3 M79.4,381.5 h4.3 M339.3,381.5 h-4.3 M79.4,368.8 h4.3 M339.3,368.8 h-4.3 M79.4,358.9 h4.3 M339.3,358.9 h-4.3 M79.4,350.8 h4.3 M339.3,350.8 h-4.3 M79.4,343.9 h4.3 M339.3,343.9 h-4.3 M79.4,338.0 h4.3 M339.3,338.0 h-4.3 M79.4,332.8 h4.3 M339.3,332.8 h-4.3 M79.4,328.1 h8.5 M339.3,328.1 h-8.5 M79.4,297.3 h4.3 M339.3,297.3 h-4.3 M79.4,279.3 h4.3 M339.3,279.3 h-4.3 M79.4,266.6 h4.3 M339.3,266.6 h-4.3 M79.4,256.7 h4.3 M339.3,256.7 h-4.3 M79.4,248.6 h4.3 M339.3,248.6 h-4.3 M79.4,241.7 h4.3 M339.3,241.7 h-4.3 M79.4,235.8 h4.3 M339.3,235.8 h-4.3 M79.4,230.6 h4.3 M339.3,230.6 h-4.3 M79.4,225.9 h8.5 M339.3,225.9 h-8.5 M79.4,195.1 h4.3 M339.3,195.1 h-4.3 M79.4,177.1 h4.3 M339.3,177.1 h-4.3 M79.4,164.4 h4.3 M339.3,164.4 h-4.3 M79.4,154.5 h4.3 M339.3,154.5 h-4.3 M79.4,146.4 h4.3 M339.3,146.4 h-4.3 M79.4,139.5 h4.3 M339.3,139.5 h-4.3 M79.4,133.6 h4.3 M339.3,133.6 h-4.3 M79.4,128.4 h4.3 M339.3,128.4 h-4.3 M79.4,123.7 h8.5 M339.3,123.7 h-8.5 M79.4,92.9 h4.3 M339.3,92.9 h-4.3 M79.4,74.9 h4.3 M339.3,74.9 h-4.3 M79.4,62.2 h4.3 M339.3,62.2 h-4.3 M79.4,52.3 h4.3 M339.3,52.3 h-4.3 M79.4,44.2 h4.3 M339.3,44.2 h-4.3 M79.4,37.3 h4.3 M339.3,37.3 h-4.3 M79.4,31.4 h4.3 M339.3,31.4 h-4.3 M79.4,26.2 h4.3 M339.3,26.2 h-4.3 M410.0,20.8 v8 M410.0,430.3 v-8 M447.1,20.8 v8 M447.1,430.3 v-8 M484.2,20.8 v8 M484.2,430.3 v-8 M521.3,20.8 v8 M521.3,430.3 v-8 M558.4,20.8 v8 M558.4,430.3 v-8 M595.5,20.8 v8 M595.5,430.3 v-8 M632.6,430.3 v-8 M669.7,430.3 v-8 M706.8,430.3 v-8 M372.9,20.8 v8 M354.1,413.4 h4.3 M744.0,413.4 h-4.3 M354.1,403.6 h4.3 M744.0,403.6 h-4.3 M354.1,396.6 h4.3 M744.0,396.6 h-4.3 M354.1,391.2 h4.3 M744.0,391.2 h-4.3 M354.1,386.7 h4.3 M744.0,386.7 h-4.3 M354.1,383.0 h4.3 M744.0,383.0 h-4.3 M354.1,379.7 h4.3 M744.0,379.7 h-4.3 M354.1,376.9 h4.3 M744.0,376.9 h-4.3 M354.1,374.3 h8.5 M744.0,374.3 h-8.5 M354.1,357.4 h4.3 M744.0,357.4 h-4.3 M354.1,347.6 h4.3 M744.0,347.6 h-4.3 M354.1,340.6 h4.3 M744.0,340.6 h-4.3 M354.1,335.2 h4.3 M744.0,335.2 h-4.3 M354.1,330.7 h4.3 M744.0,330.7 h-4.3 M354.1,327.0 h4.3 M744.0,327.0 h-4.3 M354.1,323.7 h4.3 M744.0,323.7 h-4.3 M354.1,320.9 h4.3 M744.0,320.9 h-4.3 M354.1,318.3 h8.5 M744.0,318.3 h-8.5 M354.1,301.4 h4.3 M744.0,301.4 h-4.3 M354.1,291.6 h4.3 M744.0,291.6 h-4.3 M354.1,284.6 h4.3 M744.0,284.6 h-4.3 M354.1,279.2 h4.3 M744.0,279.2 h-4.3 M354.1,274.7 h4.3 M744.0,274.7 h-4.3 M354.1,271.0 h4.3 M744.0,271.0 h-4.3 M354.1,267.7 h4.3 M744.0,267.7 h-4.3 M354.1,264.9 h4.3 M744.0,264.9 h-4.3 M354.1,262.3 h8.5 M744.0,262.3 h-8.5 M354.1,245.4 h4.3 M744.0,245.4 h-4.3 M354.1,235.6 h4.3 M744.0,235.6 h-4.3 M354.1,228.6 h4.3 M744.0,228.6 h-4.3 M354.1,223.2 h4.3 M744.0,223.2 h-4.3 M354.1,218.7 h4.3 M744.0,218.7 h-4.3 M354.1,215.0 h4.3 M744.0,215.0 h-4.3 M354.1,211.7 h4.3 M744.0,211.7 h-4.3 M354.1,208.9 h4.3 M744.0,208.9 h-4.3 M354.1,206.3 h8.5 M744.0,206.3 h-8.5 M354.1,189.4 h4.3 M744.0,189.4 h-4.3 M354.1,179.6 h4.3 M744.0,179.6 h-4.3 M354.1,172.6 h4.3 M744.0,172.6 h-4.3 M354.1,167.2 h4.3 M744.0,167.2 h-4.3 M354.1,162.7 h4.3 M744.0,162.7 h-4.3 M354.1,159.0 h4.3 M744.0,159.0 h-4.3 M354.1,155.7 h4.3 M744.0,155.7 h-4.3 M354.1,152.9 h4.3 M744.0,152.9 h-4.3 M354.1,150.3 h8.5 M744.0,150.3 h-8.5 M354.1,133.4 h4.3 M744.0,133.4 h-4.3 M354.1,123.6 h4.3 M744.0,123.6 h-4.3 M354.1,116.6 h4.3 M744.0,116.6 h-4.3 M354.1,111.2 h4.3 M744.0,111.2 h-4.3 M354.1,106.7 h4.3 M744.0,106.7 h-4.3 M354.1,103.0 h4.3 M744.0,103.0 h-4.3 M354.1,99.7 h4.3 M744.0,99.7 h-4.3 M354.1,96.9 h4.3 M744.0,96.9 h-4.3 M354.1,94.3 h8.5 M744.0,94.3 h-8.5 M354.1,77.4 h4.3 M744.0,77.4 h-4.3 M354.1,67.6 h4.3 M744.0,67.6 h-4.3 M354.1,60.6 h4.3 M744.0,60.6 h-4.3 M354.1,55.2 h4.3 M744.0,55.2 h-4.3 M354.1,50.7 h4.3 M354.1,47.0 h4.3 M354.1,43.7 h4.3 M354.1,40.9 h4.3 M354.1,38.3 h8.5 M354.1,21.4 h4.3" stroke="#000" stroke-width="1.6" fill="none"/>
<rect x="79.4" y="20.8" width="259.9" height="409.5" fill="none" stroke="#000" stroke-width="2.0"/>
<path d="M744.0,52 V430.3 H354.1 V20.8 H629.5" fill="none" stroke="#000" stroke-width="2.0" stroke-linejoin="miter"/>
<path d="M629,20.900000000000002 H744.0 V52.5" fill="none" stroke="#000" stroke-width="1.3"/>
<rect x="506.3" y="173.0" width="183.0" height="202.9" fill="#fff" stroke="#000" stroke-width="1.6"/>
<path d="M555.2,173.0 v3.5 M555.2,375.9 v-3.5 M599.9,173.0 v3.5 M599.9,375.9 v-3.5 M644.6,173.0 v3.5 M644.6,375.9 v-3.5 M506.3,198.3 h3.5 M689.3,198.3 h-3.5 M506.3,223.7 h3.5 M689.3,223.7 h-3.5 M506.3,249.1 h3.5 M689.3,249.1 h-3.5 M506.3,274.4 h3.5 M689.3,274.4 h-3.5 M506.3,299.8 h3.5 M689.3,299.8 h-3.5 M506.3,325.1 h3.5 M689.3,325.1 h-3.5 M506.3,350.5 h3.5 M689.3,350.5 h-3.5" stroke="#000" stroke-width="1.4" fill="none"/>
<path d="M511.6,224.2 C512.9,223.4 516.4,221.0 519.1,219.6 C521.9,218.2 525.1,216.8 528.1,215.7 C531.1,214.6 533.7,214.2 537.2,213.3 C540.7,212.5 543.7,211.4 549.2,210.6 C554.7,209.8 561.8,209.0 570.3,208.5 C578.8,208.0 587.8,207.8 600.4,207.6 C613.0,207.3 632.5,207.2 645.6,207.0 C658.8,206.8 673.7,206.8 679.3,206.7" fill="none" stroke="#000" stroke-width="1.6" stroke-linejoin="round"/>
<path d="M511.6,267.5 C512.9,266.8 516.4,264.6 519.1,263.3 C521.9,262.0 524.6,260.8 528.1,259.7 C531.6,258.6 535.7,257.8 540.2,257.0 C544.7,256.2 547.7,255.7 555.2,255.2 C562.7,254.7 572.9,254.3 585.4,254.0 C597.9,253.7 614.9,253.6 630.5,253.4 C646.1,253.2 671.2,253.2 679.3,253.1" fill="none" stroke="#ff00ff" stroke-width="1.6" stroke-linejoin="round"/>
<path d="M511.0,303.7 C512.1,302.9 515.2,300.9 517.6,299.2 C520.0,297.5 522.6,295.0 525.1,293.4 C527.6,291.8 529.7,290.6 532.7,289.5 C535.7,288.4 539.5,287.5 543.2,286.8 C547.0,286.1 548.2,285.7 555.2,285.3 C562.2,284.9 564.7,284.9 585.4,284.7 C606.1,284.5 663.6,284.2 679.3,284.1" fill="none" stroke="#7300d2" stroke-width="1.6" stroke-linejoin="round"/>
<path d="M510.4,372.3 C510.7,371.7 511.6,369.0 512.1,368.7 C512.7,368.4 513.2,369.4 513.7,370.3 C514.2,371.2 514.7,375.0 515.1,374.3 C515.5,373.6 515.6,368.6 516.1,366.3 C516.6,364.0 517.4,362.1 518.1,360.3 C518.8,358.5 519.4,357.5 520.1,355.3 C520.8,353.1 521.3,350.1 522.1,347.2 C522.9,344.3 524.1,340.9 525.1,338.2 C526.1,335.5 526.9,333.5 528.1,331.2 C529.3,328.9 530.6,326.1 532.1,324.1 C533.6,322.1 535.2,320.4 537.2,319.1 C539.2,317.8 541.4,316.9 544.2,316.1 C547.0,315.3 550.2,314.9 554.2,314.5 C558.2,314.1 561.0,313.9 568.3,313.7 C575.6,313.5 579.5,313.5 598.0,313.5 C616.5,313.5 665.8,313.6 679.3,313.6" fill="none" stroke="#0000ff" stroke-width="1.6" stroke-linejoin="round"/>
<path d="M519.1,375.8 C519.9,373.9 522.6,367.7 524.1,364.3 C525.6,360.9 526.8,358.3 528.1,355.3 C529.4,352.3 530.8,349.1 532.1,346.2 C533.5,343.3 534.9,340.5 536.2,338.2 C537.6,335.9 538.7,333.9 540.2,332.2 C541.7,330.5 543.4,329.3 545.2,328.2 C547.0,327.1 548.7,326.2 551.2,325.5 C553.7,324.8 555.7,324.4 560.2,324.1 C564.7,323.8 572.0,323.6 578.3,323.5 C584.6,323.4 581.2,323.3 598.0,323.4 C614.8,323.5 665.8,324.0 679.3,324.1" fill="none" stroke="#000" stroke-width="1.6" stroke-linejoin="round"/>
<g font-family="Liberation Sans, sans-serif" fill="#000" text-rendering="geometricPrecision" style="opacity:0.999" stroke="#000" stroke-width="0.3">
<text x="32.7" y="34.7" font-size="23.2">10</text><text x="59.2" y="22.5" font-size="18">6</text>
<text x="32.7" y="134.7" font-size="23.2">10</text><text x="59.2" y="122.5" font-size="18">5</text>
<text x="32.7" y="234.7" font-size="23.2">10</text><text x="59.2" y="222.5" font-size="18">4</text>
<text x="32.7" y="335.1" font-size="23.2">10</text><text x="59.2" y="322.9" font-size="18">3</text>
<text x="32.7" y="434.9" font-size="23.2">10</text><text x="59.2" y="422.7" font-size="18">2</text>
<text x="79.2" y="453.4" font-size="23.2" text-anchor="middle">0</text>
<text x="131.2" y="453.4" font-size="23.2" text-anchor="middle">1</text>
<text x="183.2" y="453.4" font-size="23.2" text-anchor="middle">2</text>
<text x="235.2" y="453.4" font-size="23.2" text-anchor="middle">3</text>
<text x="287.2" y="453.4" font-size="23.2" text-anchor="middle">4</text>
<text x="339.2" y="453.4" font-size="23.2" text-anchor="middle">5</text>
<text x="208.7" y="478.1" font-size="23.2" text-anchor="middle">Temperature (K)</text>
<text transform="translate(21.7,220.5) rotate(-90)" font-size="23.2" text-anchor="middle">Sheet Resistance (Ω)</text>
<text x="295.6" y="54.1" font-size="30">a</text>
<text x="377.3" y="54.1" font-size="28.5">b</text>
<text x="687.2" y="44.3" font-size="23.2" text-anchor="middle">T=300mK</text>
<text x="371.6" y="454" font-size="23.2" text-anchor="middle">0</text>
<text x="556.3" y="454" font-size="23.2" text-anchor="middle">1</text>
<text x="741" y="454" font-size="23.2" text-anchor="middle">2</text>
<text x="575.5" y="478.4" font-size="23.2" text-anchor="middle">Magnetic Field (T)</text>
<text transform="translate(808.5,239.7) rotate(90)" font-size="23.2" text-anchor="middle">Sheet Resistance (Ω)</text>
<text x="751.3" y="46.8" font-size="23.2">10</text><text x="779.8" y="35.9" font-size="18">5</text>
<text x="751.3" y="102.8" font-size="23.2">10</text><text x="779.8" y="91.9" font-size="18">4</text>
<text x="751.3" y="158.8" font-size="23.2">10</text><text x="779.8" y="147.9" font-size="18">3</text>
<text x="751.3" y="214.8" font-size="23.2">10</text><text x="779.8" y="203.9" font-size="18">2</text>
<text x="751.3" y="270.8" font-size="23.2">10</text><text x="779.8" y="259.9" font-size="18">1</text>
<text x="751.3" y="326.8" font-size="23.2">10</text><text x="779.8" y="315.9" font-size="18">0</text>
<text x="751.3" y="382.8" font-size="23.2">10</text><text x="779.8" y="371.9" font-size="18">−1</text>
<text x="751.3" y="438.8" font-size="23.2">10</text><text x="779.8" y="427.9" font-size="18">−2</text>
<text x="694" y="180.2" font-size="21">40k</text>
<text x="694" y="230.7" font-size="21">30k</text>
<text x="694" y="280.4" font-size="21">20k</text>
<text x="694" y="329.4" font-size="21">10k</text>
<text x="694" y="379.3" font-size="21">0</text>
<text x="512.3" y="397.2" font-size="21" text-anchor="middle">0</text>
<text x="556.4" y="397.2" font-size="21" text-anchor="middle">2</text>
<text x="600.0" y="397.2" font-size="21" text-anchor="middle">4</text>
<text x="644.3" y="397.2" font-size="21" text-anchor="middle">6</text>
<text x="687.4" y="397.2" font-size="21" text-anchor="middle">8</text>
<text x="89.4" y="204.5" font-size="16.2" font-weight="bold" text-anchor="middle">6</text>
<text x="102" y="227.6" font-size="16.2" font-weight="bold" text-anchor="middle">7</text>
<text x="99.5" y="261.7" font-size="16.2" font-weight="bold" text-anchor="middle">8</text>
<text x="367.4" y="81.2" font-size="16.2" font-weight="bold" text-anchor="middle">6</text>
<text x="395.5" y="103.6" font-size="16.2" font-weight="bold" text-anchor="middle">7</text>
<text x="428.9" y="115.8" font-size="16.2" font-weight="bold" text-anchor="middle">8</text>
<text x="597.2" y="248.7" font-size="15.8" font-weight="bold" text-anchor="middle">6</text>
<text x="610.2" y="278.4" font-size="15.8" font-weight="bold" text-anchor="middle">7</text>
<text x="623" y="308.7" font-size="15.8" font-weight="bold" text-anchor="middle">8</text>
</g>
</svg></body></html>
